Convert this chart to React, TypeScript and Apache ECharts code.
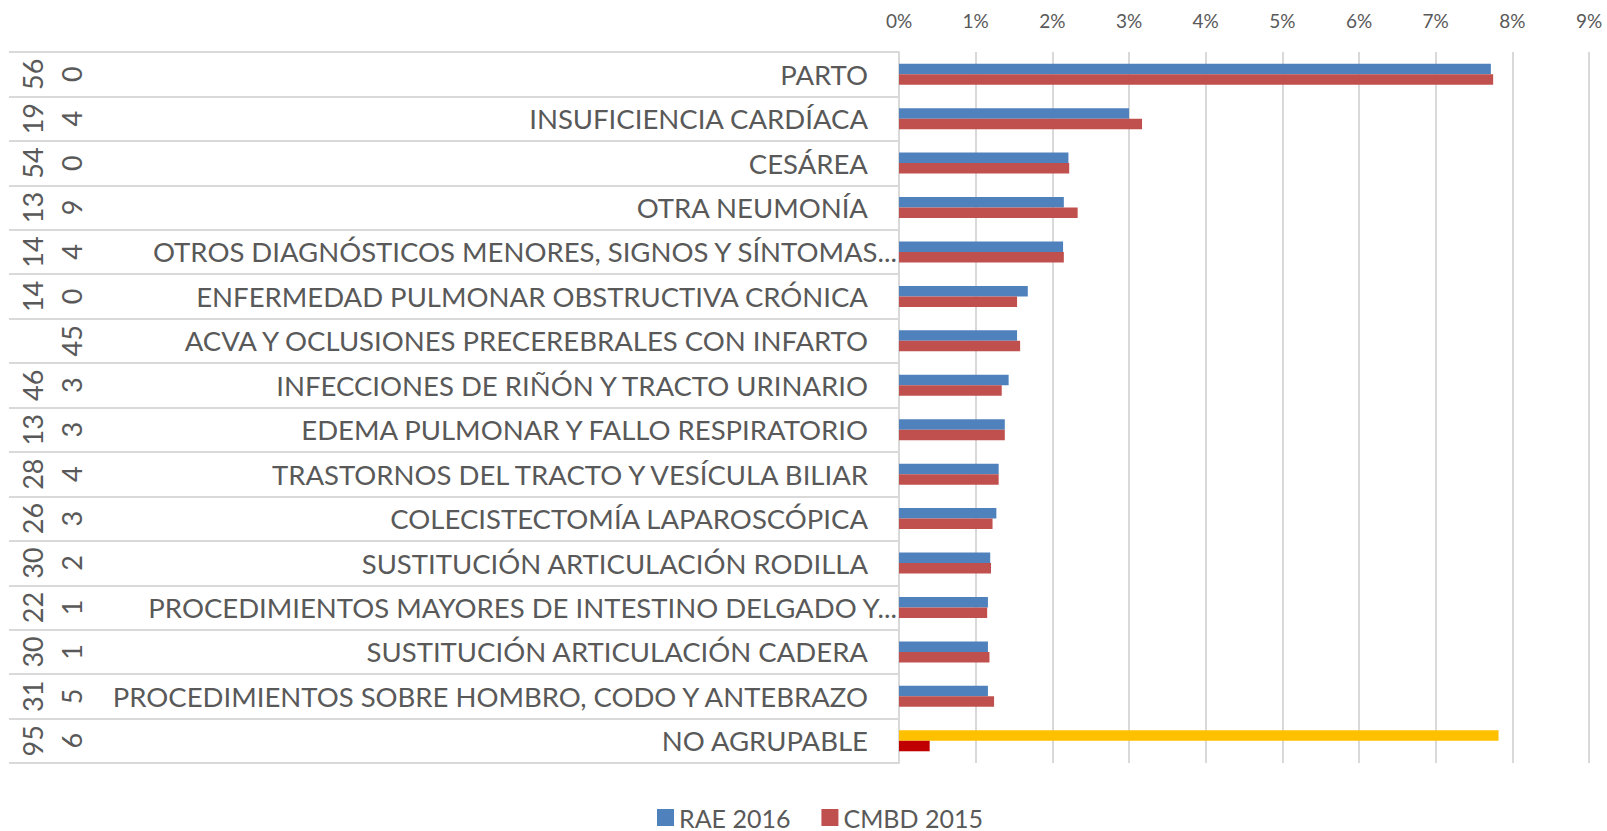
import React, { useEffect, useRef } from "react";
import * as echarts from "echarts";

const categories = [
  "PARTO",
  "INSUFICIENCIA CARDÍACA",
  "CESÁREA",
  "OTRA NEUMONÍA",
  "OTROS DIAGNÓSTICOS MENORES, SIGNOS Y SÍNTOMAS...",
  "ENFERMEDAD PULMONAR OBSTRUCTIVA CRÓNICA",
  "ACVA Y OCLUSIONES PRECEREBRALES CON INFARTO",
  "INFECCIONES DE RIÑÓN Y TRACTO URINARIO",
  "EDEMA PULMONAR Y FALLO RESPIRATORIO",
  "TRASTORNOS DEL TRACTO Y VESÍCULA BILIAR",
  "COLECISTECTOMÍA LAPAROSCÓPICA",
  "SUSTITUCIÓN ARTICULACIÓN RODILLA",
  "PROCEDIMIENTOS MAYORES DE INTESTINO DELGADO Y...",
  "SUSTITUCIÓN ARTICULACIÓN CADERA",
  "PROCEDIMIENTOS SOBRE HOMBRO, CODO Y ANTEBRAZO",
  "NO AGRUPABLE",
];
const codeOuter = ["56", "19", "54", "13", "14", "14", "", "46", "13", "28", "26", "30", "22", "30", "31", "95"];
const codeInner = ["0", "4", "0", "9", "4", "0", "45", "3", "3", "4", "3", "2", "1", "1", "5", "6"];

const rae2016 = [7.72, 3.0, 2.21, 2.15, 2.14, 1.68, 1.54, 1.43, 1.38, 1.3, 1.27, 1.19, 1.16, 1.16, 1.16, 7.82];
const cmbd2015 = [7.75, 3.17, 2.22, 2.33, 2.15, 1.54, 1.58, 1.34, 1.38, 1.3, 1.22, 1.2, 1.15, 1.18, 1.24, 0.4];

const ticks = [0, 1, 2, 3, 4, 5, 6, 7, 8, 9];

const FONT = "Lato";
const TXT = "#595959";
const GRID = "#D9D9D9";

export default function App() {
  const ref = useRef<HTMLDivElement>(null);
  useEffect(() => {
    document.body.style.margin = "0";
    if (!ref.current) return;
    const chart = echarts.init(ref.current, null, { renderer: "svg" });
    const last = categories.length - 1;
    chart.setOption({
      animation: false,
      textStyle: { fontFamily: FONT, color: TXT },
      grid: { left: 899, right: 18, top: 52, bottom: 68, containLabel: false, outerBoundsMode: "none" },
      legend: {
        top: 800,
        left: 652,
        itemWidth: 17,
        itemHeight: 17,
        itemGap: 31,
        icon: "rect",
        textStyle: { fontFamily: FONT, fontSize: 25, color: TXT },
        data: ["RAE 2016", "CMBD 2015"],
      },
      xAxis: {
        type: "value",
        position: "top",
        min: ticks[0],
        max: ticks[ticks.length - 1],
        interval: 1,
        axisLine: { show: false },
        axisTick: { show: false },
        axisLabel: { formatter: "{value}%", fontSize: 19, color: TXT, fontFamily: FONT, margin: 22 },
        splitLine: { show: true, lineStyle: { color: GRID, width: 2 } },
      },
      yAxis: [
        {
          type: "category",
          data: categories,
          inverse: true,
          axisLine: { show: true, lineStyle: { color: GRID, width: 2 } },
          axisTick: { show: true, length: 890, alignWithLabel: false, lineStyle: { color: GRID, width: 2 } },
          axisLabel: {
            interval: 0,
            margin: 0,
            formatter: (v: string) => (v.endsWith("...") ? `{t|${v}}` : `{n|${v}}`),
            rich: {
              n: { fontSize: 27.5, color: TXT, fontFamily: FONT, padding: [0, 31, 0, 0] },
              t: { fontSize: 27.5, color: TXT, fontFamily: FONT, padding: [0, 2, 0, 0] },
            },
          },
        },
        {
          type: "category",
          data: codeOuter,
          inverse: true,
          position: "left",
          offset: 853,
          axisLine: { show: false },
          axisTick: { show: false },
          axisLabel: { interval: 0, rotate: 90, margin: 0, fontSize: 27, color: TXT, fontFamily: FONT, lineHeight: 27 },
        },
        {
          type: "category",
          data: codeInner,
          inverse: true,
          position: "left",
          offset: 814,
          axisLine: { show: false },
          axisTick: { show: false },
          axisLabel: { interval: 0, rotate: 90, margin: 0, fontSize: 27, color: TXT, fontFamily: FONT, lineHeight: 27 },
        },
      ],
      series: [
        {
          name: "RAE 2016",
          type: "bar",
          yAxisIndex: 0,
          barWidth: 10.5,
          barGap: "0%",
          itemStyle: { color: "#4F81BD" },
          data: rae2016.map((v, i) => (i === last ? { value: v, itemStyle: { color: "#FFC000" } } : v)),
        },
        {
          name: "CMBD 2015",
          type: "bar",
          yAxisIndex: 0,
          barWidth: 10.5,
          barGap: "0%",
          itemStyle: { color: "#C0504D" },
          data: cmbd2015.map((v, i) => (i === last ? { value: v, itemStyle: { color: "#C00000" } } : v)),
        },
      ],
    });
    return () => chart.dispose();
  }, []);
  return <div ref={ref} style={{ width: 1607, height: 831 }} />;
}
